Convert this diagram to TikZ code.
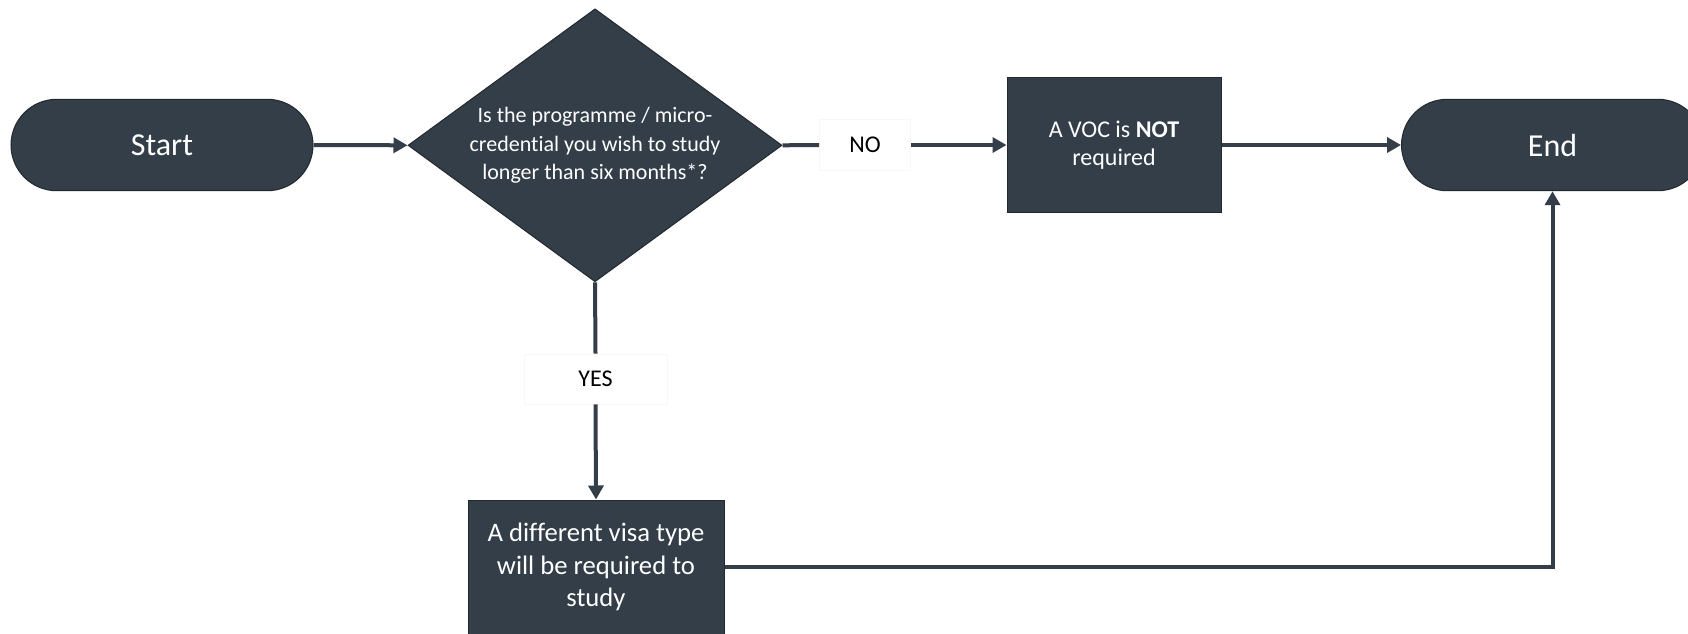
\documentclass[tikz,border=0pt]{standalone}
\usepackage{fontspec}
\setmainfont{Carlito}[Ligatures=NoCommon]
\usetikzlibrary{shapes.geometric,arrows.meta}
\definecolor{slate}{HTML}{333E48}
\definecolor{slateedge}{HTML}{22292F}
\definecolor{faint}{HTML}{F8F8F8}
\tikzset{
  base/.style={fill=slate, draw=slateedge, line width=0.75pt, text=white, inner sep=0pt, align=center},
  terminal/.style={base, rectangle, rounded corners=34.3pt, minimum width=226.5pt, minimum height=68.6pt, font=\fontsize{24}{29}\selectfont},
  decision/.style={base, diamond, shape aspect=1.37, minimum width=280.5pt, minimum height=204.75pt, font=\fontsize{16.5}{21.6}\selectfont},
  process/.style={base, rectangle, font=\fontsize{18}{20.8}\selectfont},
  lbl/.style={rectangle, fill=white, draw=faint, line width=0.5pt, text=black, inner sep=0pt, font=\fontsize{18}{22}\selectfont},
  conn/.style={draw=slate, line width=3pt},
  arr/.style={conn, -{Triangle[length=10.5pt, width=11.25pt]}}
}
\begin{document}
\begin{tikzpicture}[x=0.75pt, y=-0.75pt]
\clip (0,0) rectangle (1688,633);
\fill[white] (0,0) rectangle (1688,633);
\node[terminal] (start) at (162,145) {Start};
\node[decision] (dec) at (595,145.3) {Is the programme / micro-\\credential you wish to study\\longer than six months*?};
\node[lbl, minimum width=68.25pt, minimum height=38.25pt] (no) at (865,145) {NO};
\node[process, minimum width=160.5pt, minimum height=100.9pt] (voc) at (1114,145) {A VOC is \textbf{NOT}\\required};
\node[terminal] (end) at (1552.5,145) {End};
\node[lbl, minimum width=107.25pt, minimum height=37.5pt] (yes) at (595.5,379) {YES};
\node[process, minimum width=192pt, minimum height=100.5pt, font=\fontsize{20}{24.4}\selectfont] (visa) at (596,567) {A different visa type\\will be required to\\study};
\draw[arr] (start.east) -- (dec.west);
\draw[conn] (dec.east) -- (no.west);
\draw[arr] (no.east) -- (voc.west);
\draw[arr] (voc.east) -- (end.west);
\draw[conn] (dec.south) -- (yes.north);
\draw[arr] (yes.south) -- (visa.north);
\draw[arr] (visa.east) -| (end.south);
\end{tikzpicture}
\end{document}
